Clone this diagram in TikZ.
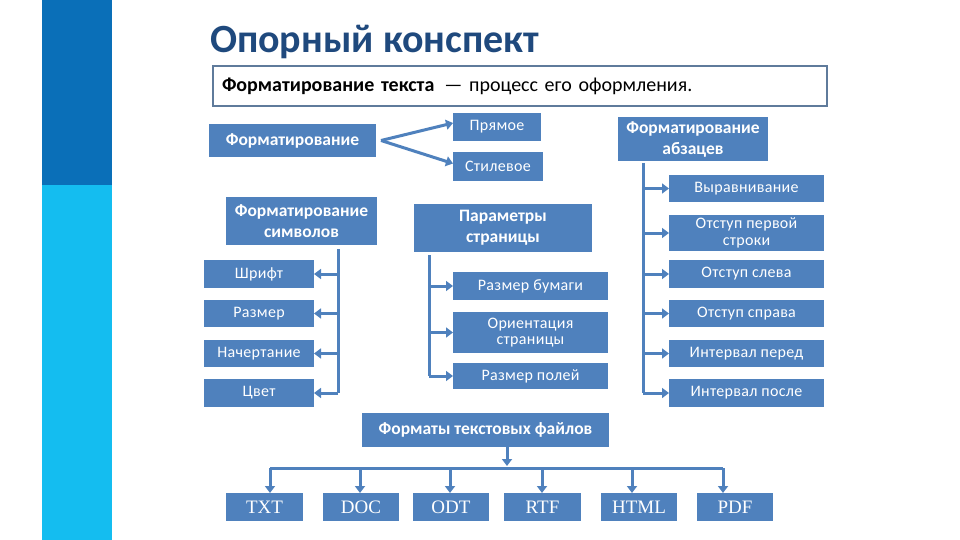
\documentclass[tikz,border=0pt]{standalone}
\usepackage{fontspec}
\setmainfont{Carlito}
\newfontfamily\widefont[LetterSpace=2]{Carlito}
\newfontfamily\formatfont{Liberation Serif}
\usetikzlibrary{arrows.meta}
\definecolor{bar-dark}{HTML}{0A6FB8}
\definecolor{bar-light}{HTML}{14BDF0}
\definecolor{box-blue}{HTML}{4F81BD}
\definecolor{title-blue}{HTML}{1F497D}
\definecolor{frame-gray}{HTML}{5F7B9B}

\begin{document}
\begin{tikzpicture}[x=1pt, y=-1pt,
    every node/.style={inner sep=0pt, outer sep=0pt},
    headbox/.style={fill=box-blue, text=white, align=center,
      font=\fontsize{17.5}{21}\selectfont\bfseries},
    itembox/.style={fill=box-blue, text=white, align=center,
      font=\fontsize{16}{16.5}\selectfont\widefont},
    formatbox/.style={fill=box-blue, text=white, minimum height=28,
      font=\fontsize{19}{20}\selectfont\formatfont},
    conn/.style={draw=box-blue, line width=3pt, -{Triangle[length=7pt,width=10pt]}},
    trunk/.style={draw=box-blue, line width=3pt}]
  \useasboundingbox (0,0) rectangle (960,540);
  \fill[bar-dark] (42,0) rectangle (112,185);
  \fill[bar-light] (42,185) rectangle (112,540);

  \node[anchor=base west, text=title-blue, font=\fontsize{40}{42}\selectfont\bfseries]
    (title) at (210,53) {Опорный конспект};
  \node[draw=frame-gray, line width=2pt, anchor=north west, minimum width=614,
    minimum height=40, text width=596, inner xsep=9pt, align=left,
    font=\fontsize{20}{22}\selectfont] (defn) at (213,66)
    {\textbf{Форматирование текста}\, — процесс его оформления.};

  \node[headbox, minimum width=167, minimum height=33] (fmt) at (292.5,140.5) {Форматирование};
  \node[itembox, minimum width=88, minimum height=28] (pryam) at (497,127) {Прямое};
  \node[itembox, minimum width=90, minimum height=29] (stil) at (498,166.5) {Стилевое};
  \node[headbox, minimum width=150, minimum height=44] (abz) at (693,139)
    {Форматирование\\абзацев};

  \node[headbox, minimum width=151, minimum height=48] (sym) at (301.5,221)
    {Форматирование\\символов};
  \node[itembox, minimum width=110, minimum height=28] (shrift) at (259,274) {Шрифт};
  \node[itembox, minimum width=110, minimum height=27] (razmer) at (259,313.5) {Размер};
  \node[itembox, minimum width=110, minimum height=27] (nachert) at (259,353.5) {Начертание};
  \node[itembox, minimum width=110, minimum height=28] (cvet) at (259,393) {Цвет};

  \node[headbox, minimum width=178, minimum height=48] (par) at (503,228)
    {Параметры\\страницы};
  \node[itembox, minimum width=155, minimum height=28] (bumaga) at (530.5,286) {Размер бумаги};
  \node[itembox, minimum width=155, minimum height=41] (orient) at (530.5,332.5)
    {Ориентация\\страницы};
  \node[itembox, minimum width=155, minimum height=26] (polya) at (530.5,376) {Размер полей};

  \node[itembox, minimum width=155, minimum height=27] (vyr) at (746.5,188.5) {Выравнивание};
  \node[itembox, minimum width=155, minimum height=36] (otpervoj) at (746.5,233)
    {Отступ первой\\строки};
  \node[itembox, minimum width=155, minimum height=28] (otsleva) at (746.5,274) {Отступ слева};
  \node[itembox, minimum width=155, minimum height=27] (otsprava) at (746.5,313.5) {Отступ справа};
  \node[itembox, minimum width=155, minimum height=27] (intpered) at (746.5,353.5) {Интервал перед};
  \node[itembox, minimum width=155, minimum height=28] (intposle) at (746.5,393) {Интервал после};

  \node[headbox, minimum width=247, minimum height=34] (fmts) at (485.5,430)
    {Форматы текстовых файлов};
  \node[formatbox, minimum width=77] (txt) at (264.5,507) {TXT};
  \node[formatbox, minimum width=76] (doc) at (361,507) {DOC};
  \node[formatbox, minimum width=76] (odt) at (451,507) {ODT};
  \node[formatbox, minimum width=77] (rtf) at (542.5,507) {RTF};
  \node[formatbox, minimum width=76] (html) at (639,507) {HTML};
  \node[formatbox, minimum width=76] (pdf) at (735,507) {PDF};

  \draw[conn] ([xshift=5pt]fmt.east) -- ([yshift=4pt]pryam.west);
  \draw[conn] ([xshift=5pt]fmt.east) -- ([yshift=3pt]stil.west);

  \coordinate (symtop) at ([xshift=-39pt, yshift=-4pt]sym.south east);
  \draw[trunk] (symtop) -- (symtop |- cvet.east);
  \foreach \n in {shrift, razmer, nachert, cvet}
    \draw[conn] (symtop |- \n.east) -- (\n.east);

  \coordinate (partop) at ([xshift=15pt, yshift=-3pt]par.south west);
  \draw[trunk] (partop) -- (partop |- polya.west);
  \foreach \n in {bumaga, orient, polya}
    \draw[conn] (partop |- \n.west) -- (\n.west);

  \coordinate (abztop) at ([xshift=25pt, yshift=-2pt]abz.south west);
  \draw[trunk] (abztop) -- (abztop |- intposle.west);
  \foreach \n in {vyr, otpervoj, otsleva, otsprava, intpered, intposle}
    \draw[conn] (abztop |- \n.west) -- (\n.west);

  \coordinate (fmtdrop) at ([xshift=21.5pt]fmts.south);
  \coordinate (bus) at ([yshift=-21pt]fmtdrop);
  \draw[conn] (fmtdrop) -- ([yshift=2pt]bus);
  \foreach \n/\dx in {txt/5.5, doc/-1, odt/-1, rtf/-0.5, html/-7, pdf/-12}
    \coordinate (\n-in) at ([xshift=\dx pt]\n.north);
  \draw[trunk] (txt-in |- bus) -- (pdf-in |- bus);
  \foreach \n in {txt, doc, odt, rtf, html, pdf}
    \draw[conn] (\n-in |- bus) -- (\n-in);
\end{tikzpicture}
\end{document}
